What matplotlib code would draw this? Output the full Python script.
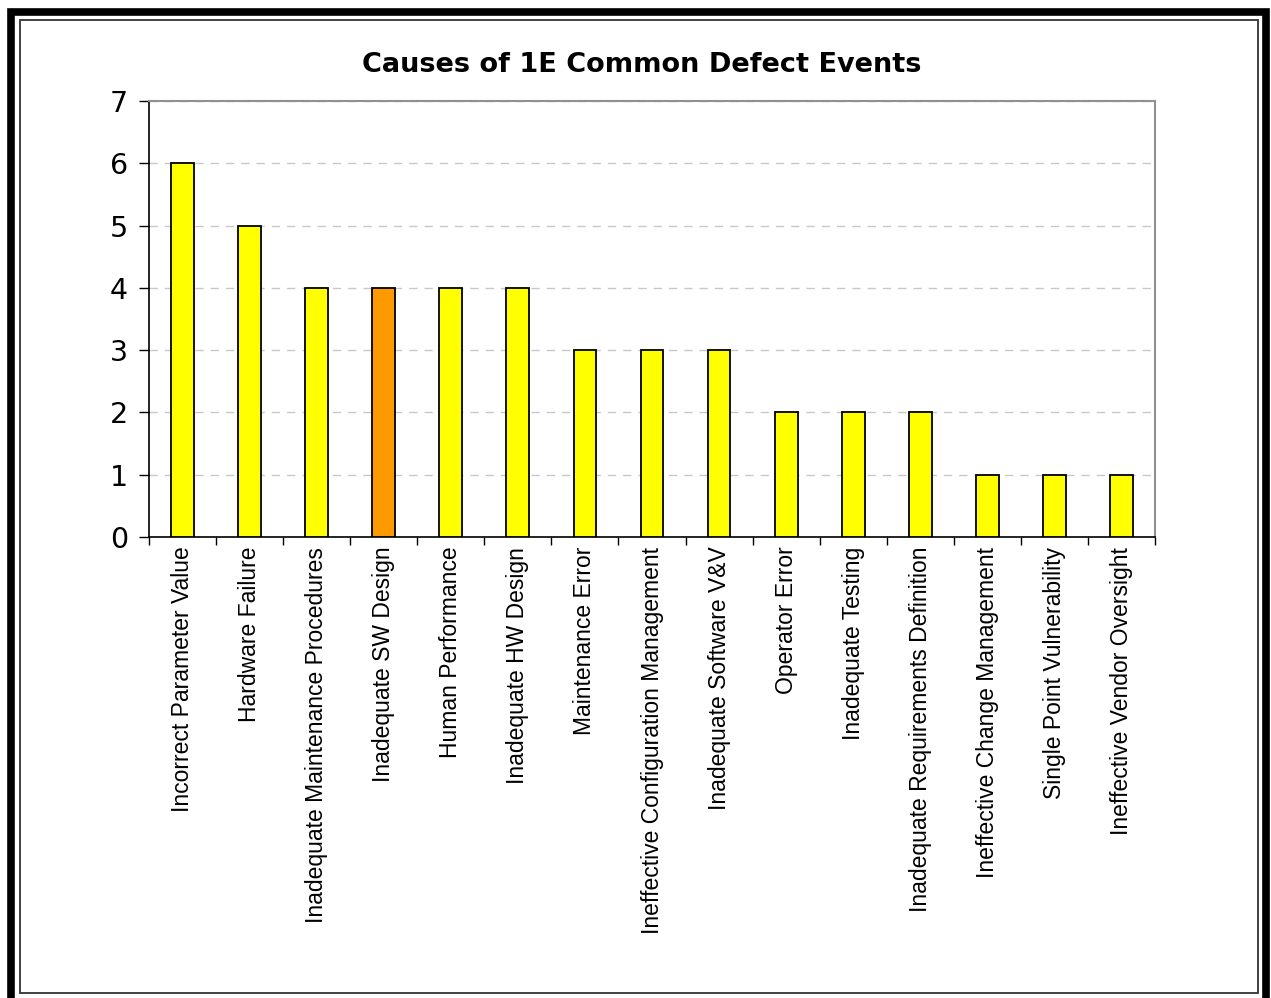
import numpy as np
import matplotlib.pyplot as plt
from matplotlib.patches import Rectangle

plt.rcParams['font.family'] = ['Liberation Sans', 'DejaVu Sans']

# defect causes and how often each one showed up
causes = ["Incorrect Parameter Value", "Hardware Failure",
          "Inadequate Maintenance Procedures", "Inadequate SW Design",
          "Human Performance", "Inadequate HW Design", "Maintenance Error",
          "Ineffective Configuration Management", "Inadequate Software V&V",
          "Operator Error", "Inadequate Testing",
          "Inadequate Requirements Definition", "Ineffective Change Management",
          "Single Point Vulnerability", "Ineffective Vendor Oversight"]
counts = [6, 5, 4, 4, 4, 4, 3, 3, 3, 2, 2, 2, 1, 1, 1]
highlight = "Inadequate SW Design"

W, H = 1271, 998
fig = plt.figure(figsize=(W / 100, H / 100), dpi=100)
ax = fig.add_axes([149 / W, 1 - 537 / H, (1155 - 149) / W, (537 - 101) / H])

x = np.arange(len(causes))
colors = ['#FF9900' if c == highlight else '#FFFF00' for c in causes]
ax.bar(x, counts, width=0.34, color=colors, edgecolor='black', linewidth=1.3, zorder=3)

ax.set_xlim(-0.5, len(causes) - 0.5)
ax.set_ylim(0, 7)
ax.set_yticks(range(0, 8))
ax.tick_params(axis='y', labelsize=20.5, length=7, width=1, pad=8)
for lbl in ax.get_yticklabels():
    lbl.set_family('DejaVu Sans')
ax.yaxis.grid(True, linestyle=(0, (6, 5)), color='#C8C8C8', linewidth=1, zorder=0)

ax.set_xticks(x)
ax.set_xticklabels(causes, rotation=90, fontsize=16.5, va='top', ha='center')
ax.tick_params(axis='x', which='major', length=0, pad=7)
ax.set_xticks(np.arange(-0.5, len(causes)), minor=True)
ax.tick_params(axis='x', which='minor', length=6, width=1)

for side in ['left', 'bottom']:
    ax.spines[side].set_color('black')
    ax.spines[side].set_linewidth(1.2)
for side in ['top', 'right']:
    ax.spines[side].set_color('#909090')
    ax.spines[side].set_linewidth(1.5)

fig.text(642 / W, 1 - 65 / H, "Causes of 1E Common Defect Events",
         ha='center', va='center', fontsize=19.5, fontweight='bold',
         family='DejaVu Sans')

# frame around the chart: heavy outer border plus thin inner one
outer = Rectangle((11 / W, -0.02), (1266 - 11) / W, 1 - 12 / H + 0.02,
                  transform=fig.transFigure, fill=False, edgecolor='black',
                  linewidth=5.5, clip_on=False)
inner = Rectangle((20 / W, 1 - 993 / H), (1258 - 20) / W, (993 - 20) / H,
                  transform=fig.transFigure, fill=False, edgecolor='#333333',
                  linewidth=1.3, clip_on=False)
fig.patches.extend([outer, inner])

fig.savefig('out.png', dpi=100)
